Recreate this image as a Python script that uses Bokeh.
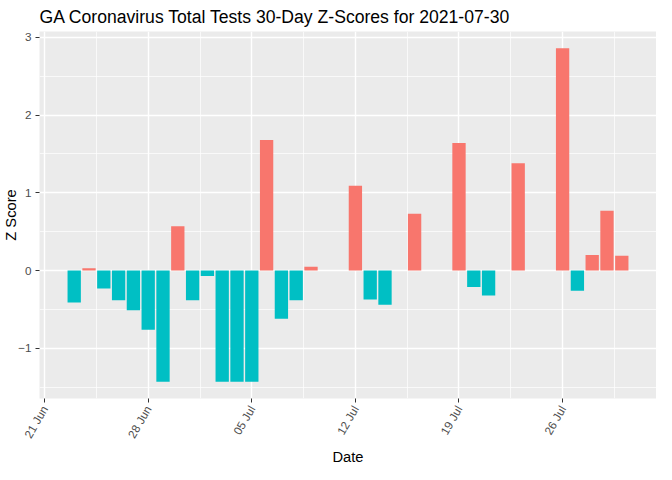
import math
from datetime import datetime
from bokeh.plotting import figure
from bokeh.models import Range1d, FixedTicker, ColumnDataSource, DatetimeTickFormatter, Title
from bokeh.embed import file_html
from bokeh.resources import INLINE

# ---- data ----
dates = [
    "2021-06-23", "2021-06-24", "2021-06-25", "2021-06-26", "2021-06-27",
    "2021-06-28", "2021-06-29", "2021-06-30", "2021-07-01", "2021-07-02",
    "2021-07-03", "2021-07-04", "2021-07-05", "2021-07-06", "2021-07-07",
    "2021-07-08", "2021-07-09", "2021-07-12", "2021-07-13", "2021-07-14",
    "2021-07-16", "2021-07-19", "2021-07-20", "2021-07-21", "2021-07-23",
    "2021-07-26", "2021-07-27", "2021-07-28", "2021-07-29", "2021-07-30",
]
z_scores = [
    -0.41, 0.03, -0.23, -0.38, -0.51,
    -0.76, -1.43, 0.57, -0.38, -0.07,
    -1.43, -1.43, -1.43, 1.68, -0.62,
    -0.38, 0.05, 1.09, -0.37, -0.44,
    0.73, 1.64, -0.21, -0.32, 1.38,
    2.86, -0.26, 0.20, 0.77, 0.19,
]
x_tick_dates = ["2021-06-21", "2021-06-28", "2021-07-05", "2021-07-12", "2021-07-19", "2021-07-26"]
y_ticks = [-1, 0, 1, 2, 3]
y_minor = [-1.5, -0.5, 0.5, 1.5, 2.5]
title_text = "GA Coronavirus Total Tests 30-Day Z-Scores for 2021-07-30"
x_label = "Date"
y_label = "Z Score"

POS = "#F8766D"
NEG = "#00BFC4"
FONT = "Liberation Sans"

DAY_MS = 86400000.0


def to_ms(s):
    return (datetime.strptime(s, "%Y-%m-%d") - datetime(1970, 1, 1)).total_seconds() * 1000.0


xs = [to_ms(d) for d in dates]
colors = [POS if v > 0 else NEG for v in z_scores]
src = ColumnDataSource(dict(x=xs, top=z_scores, color=colors))

# ggplot-like expansion
x_lo = min(xs) - 0.45 * DAY_MS
x_hi = max(xs) + 0.45 * DAY_MS
x_pad = (x_hi - x_lo) * 0.05
y_lo = min(min(z_scores), 0)
y_hi = max(max(z_scores), 0)
y_pad = (y_hi - y_lo) * 0.05
x0, x1 = x_lo - x_pad, x_hi + x_pad
y0, y1 = y_lo - y_pad, y_hi + y_pad

p = figure(
    width=656, height=464,
    x_axis_type="datetime",
    x_range=Range1d(x0, x1),
    y_range=Range1d(y0, y1),
    output_backend="svg", toolbar_location=None,
    title=title_text,
    y_axis_label=y_label,
)
p.xaxis.axis_label = None
p.min_border_left = 35
p.min_border_right = 0
p.min_border_top = 24
p.min_border_bottom = 63

p.background_fill_color = "#EBEBEB"
p.border_fill_color = "white"
p.outline_line_color = None

p.vbar(x="x", top="top", bottom=0, width=0.9 * DAY_MS, fill_color="color",
       line_color=None, source=src)

# title
p.title.text_font = FONT
p.title.text_font_size = "17.6px"
p.title.text_font_style = "normal"
p.title.text_color = "black"
p.title.align = "left"
p.title.standoff = 9

# x axis
xt = [to_ms(d) for d in x_tick_dates]
x_minor = [t + 3.5 * DAY_MS for t in xt] + [xt[0] - 3.5 * DAY_MS]
p.xaxis.ticker = FixedTicker(ticks=xt, minor_ticks=x_minor)
fmt = "%d %b"
p.xaxis.formatter = DatetimeTickFormatter(days=fmt, months=fmt, years=fmt, hours=fmt,
                                          minutes=fmt, seconds=fmt, milliseconds=fmt,
                                          minsec=fmt, hourmin=fmt)
p.xaxis.major_label_orientation = math.pi / 3

p.yaxis.ticker = FixedTicker(ticks=y_ticks, minor_ticks=y_minor)

for ax in (p.xaxis[0], p.yaxis[0]):
    ax.axis_line_color = None
    ax.major_tick_line_color = "#333333"
    ax.major_tick_line_width = 1
    ax.major_tick_in = 0
    ax.major_tick_out = 4
    ax.minor_tick_line_color = None
    ax.major_label_text_font = FONT
    ax.major_label_text_font_size = "11.7px"
    ax.major_label_text_color = "#4D4D4D"
    ax.axis_label_text_font = FONT
    ax.axis_label_text_font_size = "14.7px"
    ax.axis_label_text_font_style = "normal"
    ax.axis_label_text_color = "black"

p.xaxis.major_label_standoff = 4
p.yaxis.major_label_standoff = 4
p.yaxis.axis_label_standoff = -4

# x axis title as a title panel below the axis
p.add_layout(Title(text=x_label, align="center", text_font=FONT, text_font_size="14.7px",
                   text_font_style="normal", text_color="black", standoff=0), "below")

for g in (p.xgrid[0], p.ygrid[0]):
    g.grid_line_color = "white"
    g.grid_line_width = 1.4
    g.minor_grid_line_color = "white"
    g.minor_grid_line_width = 0.7

open("out.html", "w").write(file_html(p, INLINE))
